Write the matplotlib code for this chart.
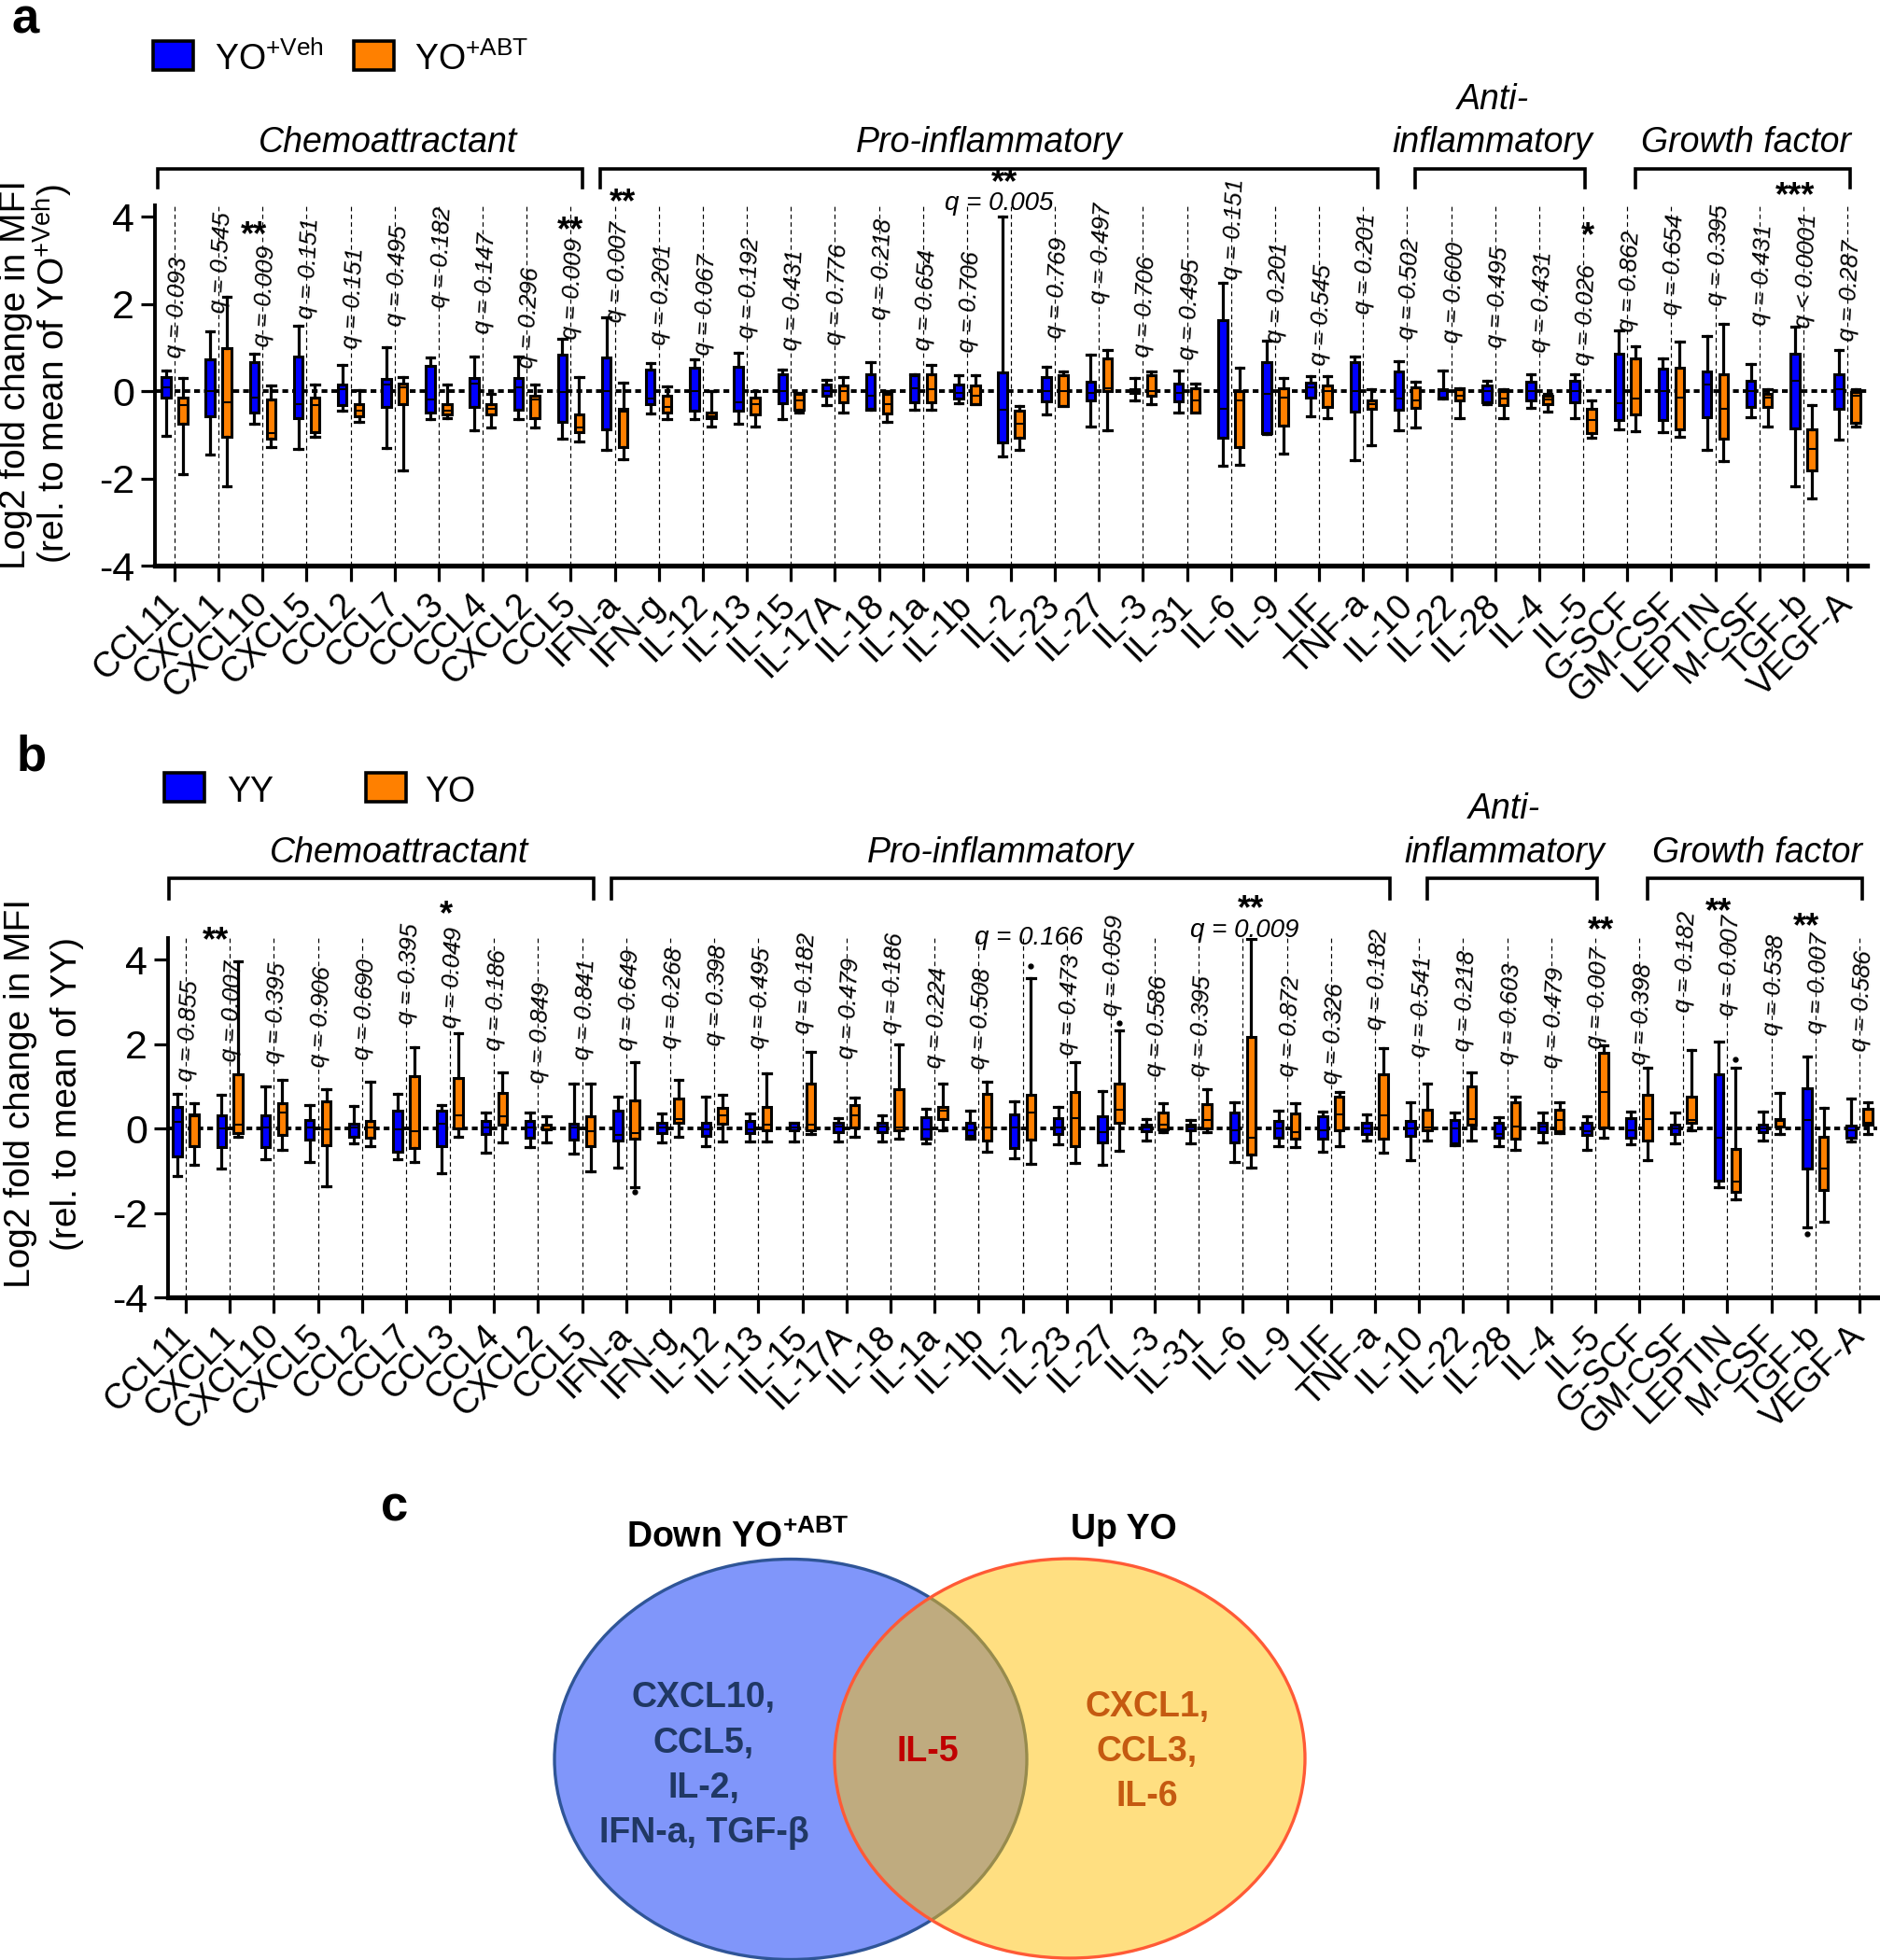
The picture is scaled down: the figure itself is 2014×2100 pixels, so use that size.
import numpy as np
import matplotlib
matplotlib.use('Agg')
import matplotlib.pyplot as plt
from matplotlib.patches import Ellipse, Rectangle
from matplotlib.transforms import blended_transform_factory, ScaledTranslation

plt.rcParams['font.family'] = ['Liberation Sans', 'DejaVu Sans']
plt.rcParams['mathtext.fontset'] = 'custom'
plt.rcParams['mathtext.rm'] = 'Liberation Sans'
plt.rcParams['mathtext.it'] = 'Liberation Sans:italic'
plt.rcParams['mathtext.bf'] = 'Liberation Sans:bold'
plt.rcParams['axes.unicode_minus'] = False

# ------------------------------------------------------------------ data
cytokines = ['CCL11', 'CXCL1', 'CXCL10', 'CXCL5', 'CCL2', 'CCL7', 'CCL3', 'CCL4', 'CXCL2', 'CCL5',
             'IFN-a', 'IFN-g', 'IL-12', 'IL-13', 'IL-15', 'IL-17A', 'IL-18', 'IL-1a', 'IL-1b', 'IL-2',
             'IL-23', 'IL-27', 'IL-3', 'IL-31', 'IL-6', 'IL-9', 'LIF', 'TNF-a',
             'IL-10', 'IL-22', 'IL-28', 'IL-4', 'IL-5',
             'G-SCF', 'GM-CSF', 'LEPTIN', 'M-CSF', 'TGF-b', 'VEGF-A']
group_names = ['Chemoattractant', 'Pro-inflammatory', 'Anti-\ninflammatory', 'Growth factor']
group_sizes = [10, 18, 5, 6]

# box statistics: (whisker low, Q1, median, Q3, whisker high)
a_veh = [(-1.02, -0.16, 0.09, 0.33, 0.47), (-1.45, -0.57, 0.0, 0.73, 1.36), (-0.75, -0.5, -0.16, 0.66, 0.85),
         (-1.33, -0.61, -0.29, 0.79, 1.49), (-0.44, -0.33, 0.05, 0.14, 0.6), (-1.3, -0.36, 0.14, 0.28, 1.0),
         (-0.65, -0.5, -0.2, 0.58, 0.77), (-0.9, -0.37, 0.18, 0.30, 0.8), (-0.65, -0.43, 0.09, 0.30, 0.79),
         (-1.09, -0.71, -0.03, 0.84, 1.19), (-1.35, -0.87, 0.0, 0.77, 1.68), (-0.52, -0.31, -0.18, 0.5, 0.64),
         (-0.64, -0.44, 0.0, 0.54, 0.73), (-0.75, -0.44, -0.25, 0.55, 0.87), (-0.64, -0.27, 0.0, 0.39, 0.5),
         (-0.32, -0.11, 0.01, 0.14, 0.25), (-0.43, -0.41, -0.11, 0.39, 0.66), (-0.43, -0.25, 0.07, 0.36, 0.38),
         (-0.27, -0.18, -0.04, 0.14, 0.36), (-1.49, -1.18, -0.43, 0.43, 4.0), (-0.54, -0.24, 0.0, 0.32, 0.56),
         (-0.81, -0.21, -0.04, 0.21, 0.84), (-0.21, -0.04, 0.0, 0.04, 0.3), (-0.49, -0.24, -0.04, 0.18, 0.48),
         (-1.71, -1.08, -0.4, 1.63, 2.49), (-0.99, -0.97, -0.07, 0.66, 1.15), (-0.58, -0.14, 0.08, 0.19, 0.35),
         (-1.58, -0.47, 0.0, 0.67, 0.8), (-0.9, -0.43, -0.18, 0.45, 0.68), (-0.17, -0.16, -0.01, 0.04, 0.47),
         (-0.31, -0.25, 0.0, 0.12, 0.23), (-0.38, -0.21, 0.0, 0.21, 0.39), (-0.62, -0.25, 0.0, 0.23, 0.38),
         (-0.88, -0.66, -0.27, 0.85, 1.39), (-0.95, -0.66, 0.0, 0.52, 0.74), (-1.34, -0.6, 0.15, 0.45, 1.26),
         (-0.6, -0.36, 0.0, 0.24, 0.62), (-2.18, -0.85, 0.23, 0.85, 1.48), (-1.12, -0.41, 0.04, 0.38, 0.94)]
a_abt = [(-1.9, -0.75, -0.33, -0.16, 0.30), (-2.19, -1.05, -0.25, 0.98, 2.17), (-1.29, -1.09, -0.96, -0.19, 0.12),
         (-1.05, -0.94, -0.33, -0.14, 0.15), (-0.71, -0.58, -0.44, -0.31, 0.03), (-1.81, -0.3, 0.09, 0.18, 0.32),
         (-0.63, -0.54, -0.44, -0.31, 0.14), (-0.84, -0.54, -0.40, -0.31, -0.06), (-0.84, -0.61, -0.2, -0.10, 0.14),
         (-1.16, -0.94, -0.84, -0.54, 0.32), (-1.57, -1.29, -0.48, -0.41, 0.2), (-0.64, -0.5, -0.36, -0.11, 0.11),
         (-0.82, -0.63, -0.57, -0.5, 0.01), (-0.82, -0.54, -0.29, -0.16, -0.01), (-0.5, -0.43, -0.21, -0.07, -0.04),
         (-0.49, -0.25, 0.0, 0.12, 0.32), (-0.71, -0.52, -0.29, -0.06, -0.01), (-0.43, -0.25, 0.04, 0.39, 0.59),
         (-0.3, -0.29, -0.11, 0.12, 0.36), (-1.34, -1.07, -0.75, -0.44, -0.34), (-0.35, -0.34, 0.0, 0.37, 0.44),
         (-0.89, 0.0, 0.07, 0.74, 0.94), (-0.31, -0.11, 0.0, 0.36, 0.45), (-0.5, -0.49, -0.21, 0.07, 0.18),
         (-1.69, -1.28, -0.21, 0.0, 0.54), (-1.44, -0.8, -0.14, 0.06, 0.3), (-0.63, -0.36, 0.0, 0.12, 0.35),
         (-1.24, -0.4, -0.29, -0.21, 0.04), (-0.84, -0.38, -0.21, 0.08, 0.21), (-0.63, -0.21, -0.1, 0.04, 0.06),
         (-0.62, -0.32, -0.18, 0.0, 0.04), (-0.46, -0.29, -0.19, -0.1, -0.07), (-1.06, -0.97, -0.66, -0.4, -0.21),
         (-0.91, -0.54, -0.18, 0.74, 1.02), (-1.05, -0.88, -0.14, 0.54, 1.13), (-1.6, -1.1, -0.4, 0.38, 1.54),
         (-0.82, -0.36, -0.14, -0.07, 0.04), (-2.47, -1.81, -1.32, -0.88, -0.32), (-0.82, -0.73, -0.1, -0.03, 0.04)]
a_veh_fliers = {}
a_abt_fliers = {}
a_q = ['0.093', '0.545', '0.009', '0.151', '0.151', '0.495', '0.182', '0.147', '0.296', '0.009',
       '0.007', '0.201', '0.067', '0.192', '0.431', '0.776', '0.218', '0.654', '0.706', '0.005',
       '0.769', '0.497', '0.706', '0.495', '0.151', '0.201', '0.545', '0.201',
       '0.502', '0.600', '0.495', '0.431', '0.026',
       '0.862', '0.654', '0.395', '0.431', '< 0.0001', '0.287']
a_sig = {2: '**', 9: '**', 10: '**', 19: '**', 32: '*', 37: '***'}

b_yy = [(-1.12, -0.66, 0.15, 0.5, 0.82), (-0.94, -0.45, 0.0, 0.32, 0.8), (-0.73, -0.45, 0.02, 0.32, 1.0),
        (-0.79, -0.27, 0.02, 0.21, 0.56), (-0.35, -0.2, 0.02, 0.12, 0.54), (-0.73, -0.55, -0.03, 0.43, 0.82),
        (-1.05, -0.42, 0.12, 0.43, 0.56), (-0.58, -0.14, 0.02, 0.17, 0.37), (-0.44, -0.23, 0.02, 0.17, 0.37),
        (-0.59, -0.26, 0.02, 0.12, 1.07), (-0.93, -0.29, -0.16, 0.41, 0.76), (-0.34, -0.11, 0.02, 0.13, 0.36),
        (-0.42, -0.17, -0.03, 0.14, 0.76), (-0.31, -0.11, -0.03, 0.17, 0.36), (-0.3, -0.04, 0.02, 0.13, 0.14),
        (-0.3, -0.08, 0.04, 0.13, 0.25), (-0.3, -0.08, 0.04, 0.13, 0.3), (-0.36, -0.25, -0.03, 0.27, 0.47),
        (-0.25, -0.17, -0.04, 0.14, 0.42), (-0.7, -0.47, 0.02, 0.34, 0.65), (-0.38, -0.13, 0.02, 0.25, 0.51),
        (-0.87, -0.34, -0.08, 0.28, 0.89), (-0.28, -0.06, 0.02, 0.08, 0.23), (-0.36, -0.04, 0.02, 0.08, 0.19),
        (-0.8, -0.34, -0.04, 0.38, 0.63), (-0.41, -0.21, 0.0, 0.17, 0.42), (-0.55, -0.25, -0.04, 0.28, 0.4),
        (-0.28, -0.13, 0.0, 0.13, 0.34), (-0.74, -0.17, 0.0, 0.17, 0.62), (-0.4, -0.36, 0.0, 0.19, 0.38),
        (-0.42, -0.21, -0.13, 0.14, 0.27), (-0.34, -0.08, 0.04, 0.14, 0.38), (-0.51, -0.15, -0.06, 0.13, 0.28),
        (-0.38, -0.21, -0.04, 0.25, 0.4), (-0.36, -0.13, 0.0, 0.08, 0.38), (-1.4, -1.24, -0.21, 1.29, 2.05),
        (-0.28, -0.08, 0.0, 0.08, 0.4), (-2.34, -0.96, 0.19, 0.96, 1.71), (-0.31, -0.21, -0.04, 0.06, 0.7)]
b_yo = [(-0.87, -0.42, 0.28, 0.34, 0.59), (-0.2, -0.11, 0.1, 1.28, 3.95), (-0.51, -0.16, 0.37, 0.59, 1.15),
        (-1.38, -0.4, -0.03, 0.65, 0.94), (-0.42, -0.23, 0.03, 0.17, 1.11), (-0.79, -0.46, -0.07, 1.24, 1.92),
        (-0.2, 0.0, 0.32, 1.2, 2.25), (-0.33, 0.1, 0.28, 0.85, 1.33), (-0.33, -0.03, 0.06, 0.1, 0.28),
        (-1.01, -0.42, -0.07, 0.28, 1.07), (-1.4, -0.24, -0.12, 0.66, 1.58), (-0.19, 0.13, 0.23, 0.7, 1.14),
        (-0.3, 0.11, 0.3, 0.49, 0.8), (-0.3, -0.04, 0.08, 0.52, 1.31), (-0.13, -0.04, 0.08, 1.07, 1.82),
        (-0.19, 0.03, 0.3, 0.55, 0.74), (-0.25, -0.04, 0.02, 0.93, 1.99), (-0.04, 0.23, 0.42, 0.52, 1.07),
        (-0.55, -0.28, 0.02, 0.82, 1.1), (-0.85, -0.27, 0.38, 0.79, 3.55), (-0.82, -0.42, 0.25, 0.87, 1.57),
        (-0.53, 0.13, 0.44, 1.07, 2.33), (-0.08, -0.03, 0.1, 0.38, 0.59), (-0.08, 0.0, 0.2, 0.58, 0.94),
        (-0.93, -0.62, -0.21, 2.16, 4.48), (-0.44, -0.25, -0.08, 0.36, 0.59), (-0.42, -0.04, 0.34, 0.76, 0.87),
        (-0.57, -0.25, 0.3, 1.29, 1.9), (-0.28, -0.04, 0.02, 0.45, 1.07), (-0.28, 0.1, 0.23, 0.99, 1.33),
        (-0.51, -0.25, 0.04, 0.63, 0.76), (-0.1, -0.06, 0.21, 0.45, 0.63), (-0.21, 0.03, 0.86, 1.8, 1.96),
        (-0.76, -0.28, 0.23, 0.79, 1.44), (-0.04, 0.13, 0.21, 0.76, 1.86), (-1.69, -1.5, -1.27, -0.48, 1.44),
        (-0.13, 0.04, 0.17, 0.23, 0.85), (-2.2, -1.46, -0.96, -0.19, 0.48), (-0.13, 0.08, 0.14, 0.47, 0.62)]
b_yy_fliers = {37: [-2.5]}
b_yo_fliers = {10: [-1.5], 19: [3.85], 21: [2.5], 35: [1.63]}
b_q = ['0.855', '0.007', '0.395', '0.906', '0.690', '0.395', '0.049', '0.186', '0.849', '0.841',
       '0.649', '0.268', '0.398', '0.495', '0.182', '0.479', '0.186', '0.224', '0.508', '0.166',
       '0.473', '0.059', '0.586', '0.395', '0.009', '0.872', '0.326', '0.182',
       '0.541', '0.218', '0.603', '0.479', '0.007',
       '0.398', '0.182', '0.007', '0.538', '0.007', '0.586']
b_sig = {1: '**', 6: '*', 24: '**', 32: '**', 35: '**', 37: '**'}

venn_left_title = 'Down YO'
venn_left_sup = '+ABT'
venn_right_title = 'Up YO'
venn_left = ['CXCL10,', 'CCL5,', 'IL-2,', 'IFN-a, TGF-β']
venn_mid = ['IL-5']
venn_right = ['CXCL1,', 'CCL3,', 'IL-6']

# ------------------------------------------------------------------ layout
W, H = 2014, 2100
BLUE, ORANGE = '#0000FF', '#FF8000'
nan = float('nan')
STAR_FS = 26

layout_a = dict(
    rect=(166, 220, 2000, 606), xlim=(-0.445, 38.445), ylim=(-4, 4.257),
    qbase=[0.77, 1.79, 1.02, 1.66, 0.98, 1.49, 1.91, 1.32, 0.52, 1.19, 1.57, 1.07, 0.82, 1.21, 0.93, 1.07,
           1.64, 0.93, 0.89, nan, 1.21, 2.0, 0.79, 0.71, 2.55, 1.11, 0.6, 1.77, 1.19, 1.11, 1.0, 0.89, 0.6,
           1.37, 1.74, 1.96, 1.52, 1.44, 1.15],
    qhoriz={19: (-0.28, 4.3)},
    stars={2: (-0.2, 3.8), 9: (0.0, 3.9), 10: (0.18, 4.55), 19: (-0.15, 5.0), 32: (0.1, 3.78), 37: (-0.19, 4.7)},
    bracket_y=(181, 201), label_base=(163, 117),
    legend_y=(44, 75), legend_x=(164, 230, 379, 444),
    ylabel=('Log2 fold change in MFI', '(rel. to mean of YO$^{\\mathrm{+Veh}}$)'),
    ylabel_x=(17, 56), ylabel_y=401,
    legend_labels=('YO$^{\\mathrm{+Veh}}$', 'YO$^{\\mathrm{+ABT}}$'),
    letter=('a', 12, 36))
layout_b = dict(
    rect=(180, 1005, 2011, 1390), xlim=(-0.403, 38.403), ylim=(-4, 4.51),
    qbase=[1.11, 1.59, 1.55, 1.46, 1.63, 2.47, 2.38, 1.85, 1.07, 1.63, 1.85, 1.9, 1.95, 1.9, 2.24, 1.65,
           2.24, 1.44, 1.4, nan, 1.73, 2.66, 1.23, 1.23, nan, 1.23, 1.06, 2.33, 1.69, 1.82, 1.52, 1.44, 1.9,
           1.52, 2.75, 2.66, 2.2, 2.24, 1.82],
    qhoriz={19: (0.14, 4.5), 24: (0.04, 4.68)},
    stars={1: (-0.32, 4.68), 6: (-0.09, 5.3), 24: (0.18, 5.42), 32: (0.13, 4.93), 35: (-0.2, 5.37), 37: (-0.2, 5.0)},
    bracket_y=(941, 963), label_base=(924, 877),
    legend_y=(828, 859), legend_x=(176, 243, 392, 455),
    ylabel=('Log2 fold change in MFI', '(rel. to mean of YY)'),
    ylabel_x=(22, 72), ylabel_y=1172,
    legend_labels=('YY', 'YO'),
    letter=('b', 18, 826))
bracket_pads = [(-0.38, 0.27), (-0.33, 0.33), (0.18, 0.04), (0.18, 0.06)]
label_offsets = [0.4, 0.0, -0.17, 0.07]

fig = plt.figure(figsize=(W / 100, H / 100), dpi=100)
ov = fig.add_axes([0, 0, 1, 1])
ov.set_axis_off()
ov.patch.set_visible(False)


def qtext(s):
    return 'q ' + s if s.startswith('<') else 'q = ' + s


def draw_panel(s1, s2, f1, f2, qvals, sig, L):
    l, t, r, b = L['rect']
    ax = fig.add_axes([l / W, 1 - b / H, (r - l) / W, (b - t) / H])
    n = len(cytokines)
    x = np.arange(n)
    for i in x:
        ax.axvline(i, color='black', lw=0.85, ls=(0, (4, 3)), zorder=1)
    ax.axhline(0, color='black', lw=2.8, ls=(0, (1.6, 1.1)), zorder=2)
    for series, fl, dx, col in ((s1, f1, -0.19, BLUE), (s2, f2, 0.19, ORANGE)):
        stats = [dict(whislo=v[0], q1=v[1], med=v[2], q3=v[3], whishi=v[4], fliers=fl.get(i, []))
                 for i, v in enumerate(series)]
        ax.bxp(stats, positions=x + dx, widths=0.2, capwidths=0.18, patch_artist=True,
               manage_ticks=False, zorder=3,
               boxprops=dict(facecolor=col, edgecolor='black', linewidth=2.2),
               whiskerprops=dict(color='black', linewidth=2.3),
               capprops=dict(color='black', linewidth=2.3),
               medianprops=dict(color='black', linewidth=1.5),
               flierprops=dict(marker='o', markersize=3.5, markerfacecolor='black',
                               markeredgecolor='black', linestyle='none'))
    ax.set_xlim(L['xlim'])
    ax.set_ylim(L['ylim'])
    ax.set_yticks([-4, -2, 0, 2, 4])
    ax.set_xticks(x)
    ax.set_xticklabels(cytokines, rotation=45, ha='right', va='center', rotation_mode='anchor')
    ax.tick_params(axis='y', length=11, width=2.3, labelsize=31, pad=5)
    ax.tick_params(axis='x', length=12, width=2.3, labelsize=27, pad=14)
    for s in ('top', 'right'):
        ax.spines[s].set_visible(False)
    ax.spines['left'].set_linewidth(2.8)
    ax.spines['bottom'].set_linewidth(3.8)
    ax.patch.set_visible(False)

    # q labels
    for i, (q, base) in enumerate(zip(qvals, L['qbase'])):
        if np.isnan(base):
            continue
        ax.text(i, base, qtext(q), rotation=87, rotation_mode='anchor', ha='left', va='center',
                fontsize=18.5, style='italic', zorder=4)
    for i, (dx, y) in L['qhoriz'].items():
        ax.text(i + dx, y, qtext(qvals[i]), ha='center', va='center', fontsize=20, style='italic', zorder=4)
    star_tr = ax.transData + ScaledTranslation(0, -0.575 * STAR_FS / 72, fig.dpi_scale_trans)
    for i, s in sig.items():
        dx, y = L['stars'][i]
        ax.text(i + dx, y, s, ha='center', va='baseline', fontsize=STAR_FS, fontweight='bold',
                transform=star_tr, zorder=4)

    # group brackets and labels (x in data, y in figure pixels)
    tr = blended_transform_factory(ax.transData, ov.transData)
    yh, ye = L['bracket_y']
    start = 0
    for g, (name, size) in enumerate(zip(group_names, group_sizes)):
        x0 = start + bracket_pads[g][0]
        x1 = start + size - 1 + bracket_pads[g][1]
        ov.plot([x0, x0, x1, x1], [ye, yh, yh, ye], color='black', lw=2.6, transform=tr,
                clip_on=False, solid_joinstyle='miter')
        xc = (x0 + x1) / 2 + label_offsets[g]
        lines = name.split('\n')
        base_main, base_top = L['label_base']
        ov.text(xc, base_main, lines[-1], transform=tr, ha='center', va='baseline',
                fontsize=27, style='italic')
        if len(lines) > 1:
            ov.text(xc, base_top, lines[0], transform=tr, ha='center', va='baseline',
                    fontsize=27, style='italic')
        start += size

    # legend
    y0, y1 = L['legend_y']
    bx1, tx1, bx2, tx2 = L['legend_x']
    for bx, tx, col, lab in ((bx1, tx1, BLUE, L['legend_labels'][0]), (bx2, tx2, ORANGE, L['legend_labels'][1])):
        ov.add_patch(Rectangle((bx, y0), 43, y1 - y0, facecolor=col, edgecolor='black', lw=2.6))
        ov.text(tx, y1, lab, ha='left', va='baseline', fontsize=27)

    # y label (two lines) and panel letter
    for xline, txt in zip(L['ylabel_x'], L['ylabel']):
        ov.text(xline, L['ylabel_y'], txt, rotation=90, ha='center', va='center', fontsize=28)
    letter, lx, ly = L['letter']
    ov.text(lx, ly, letter, ha='left', va='baseline', fontsize=38, fontweight='bold')
    return ax


ax_a = draw_panel(a_veh, a_abt, a_veh_fliers, a_abt_fliers, a_q, a_sig, layout_a)
ax_b = draw_panel(b_yy, b_yo, b_yy_fliers, b_yo_fliers, b_q, b_sig, layout_b)

# ------------------------------------------------------------------ panel c (Venn)
ov.text(408, 1629, 'c', ha='left', va='baseline', fontsize=38, fontweight='bold')
ov.add_patch(Ellipse((847, 1885), 506, 429, facecolor='#8096FA', edgecolor='#2F5597', lw=2.4, zorder=1))
ov.add_patch(Ellipse((1146, 1884), 504, 428, facecolor=(1.0, 193 / 255, 5 / 255, 0.5), edgecolor='none', zorder=2))
ov.add_patch(Ellipse((1146, 1884), 504, 428, facecolor='none', edgecolor='#FF5A36', lw=2.4, zorder=3))
ov.text(790, 1658, venn_left_title + '$^{\\mathbf{' + venn_left_sup + '}}$', ha='center', va='baseline',
        fontsize=27, fontweight='bold', zorder=4)
ov.text(1204, 1649, venn_right_title, ha='center', va='baseline', fontsize=27, fontweight='bold', zorder=4)
for k, s in enumerate(venn_left):
    ov.text(754, 1829 + 48.5 * k, s, ha='center', va='baseline', fontsize=27, fontweight='bold',
            color='#203864', zorder=4)
for k, s in enumerate(venn_mid):
    ov.text(994, 1887 + 48 * k, s, ha='center', va='baseline', fontsize=27, fontweight='bold',
            color='#C00000', zorder=4)
for k, s in enumerate(venn_right):
    ov.text(1229, 1839 + 48 * k, s, ha='center', va='baseline', fontsize=27, fontweight='bold',
            color='#C55A11', zorder=4)

ov.set_xlim(0, W)
ov.set_ylim(H, 0)
ov.set_autoscale_on(False)

fig.savefig('out.png', dpi=100)
